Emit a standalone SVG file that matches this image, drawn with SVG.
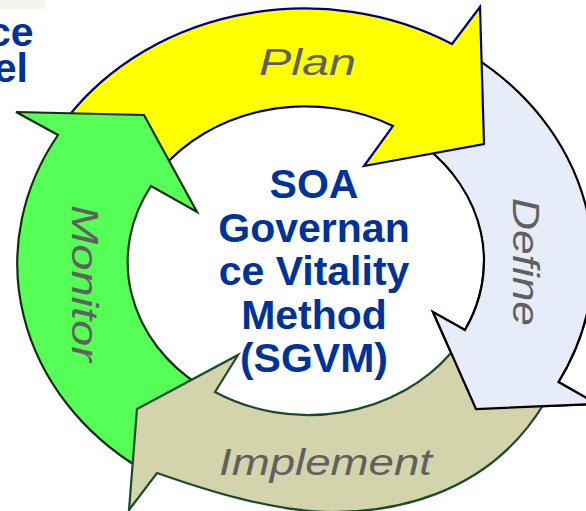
<svg xmlns="http://www.w3.org/2000/svg" width="586" height="511" viewBox="0 0 586 511">
<style>
.lbl{font-family:"Liberation Sans",Arial,sans-serif;font-style:italic;font-size:37px;fill:#606060}
.ctr{font-family:"Liberation Sans",Arial,sans-serif;font-weight:bold;font-size:41px;fill:#003399}
.yel{fill:#FFFF00;stroke:#000080;stroke-width:2.2}
.grn{fill:#55FF55;stroke:#0F300F;stroke-width:2.2}
.def{fill:#E6ECF8;stroke:#000000;stroke-width:2.2}
.deff{fill:#E6ECF8;stroke:none}
.defs{fill:none;stroke:#000000;stroke-width:2.2}
.imp{fill:#D3D3AC;stroke:#1B4A2A;stroke-width:2.2}
</style>
<rect x="0" y="0" width="45" height="9" fill="#F4F4EE"/>
<g id="title">
<text class="ctr" x="33.5" y="45.7" text-anchor="end">ce</text>
<text class="ctr" x="28" y="82.3" text-anchor="end">el</text>
</g>
<g id="cycle">
<g id="define">
<path class="def" d="M470,54.6 A291 254 0 0 1 558.5,382 L597,404 L476,409 L433,312 L465,330 A179 154 0 0 0 425,146.7 Z"/>
</g>
<g id="plan">
<path class="yel" d="M60,127.6 A287 250 0 0 1 452,44 L480,7 L484,144 L364,166 L393,126 A179 154 0 0 0 160,170.7 Z"/>
<text class="lbl" x="259" y="75" textLength="97" lengthAdjust="spacingAndGlyphs">Plan</text>
</g>
<g id="monitor">
<path class="grn" d="M16,112 L144,115 L197,212 L151,186 A179 154 0 0 0 200,385.7 L150,440 L140,468.4 A287 250 0 0 1 58,135 Z"/>
<text class="lbl" transform="translate(72,205) rotate(90)" textLength="157" lengthAdjust="spacingAndGlyphs">Monitor</text>
</g>
<g id="implement">
<path class="imp" d="M545,402 C486,501 383,512 333,512 C273,512 204,489.5 157,473 L129,510 L137,409 L238,355 L215,392 A179 157 0 0 0 451,353 L470,380 L545,398 Z"/>
<text class="lbl" x="219" y="475" textLength="213" lengthAdjust="spacingAndGlyphs">Implement</text>
</g>
<g id="define-head">
<path class="deff" d="M593,262 A291 254 0 0 1 558.5,382 L597,404 L476,409 L433,312 L465,330 A179 154 0 0 0 484,261 Z"/>
<path class="defs" d="M593,262 A291 254 0 0 1 558.5,382 L597,404 L476,409 L433,312 L465,330 A179 154 0 0 0 484,261"/>
<text class="lbl" transform="translate(513,198) rotate(90)" textLength="128" lengthAdjust="spacingAndGlyphs">Define</text>
</g>
</g>
<g id="center">
<text class="ctr" x="314" y="198" text-anchor="middle">SOA</text>
<text class="ctr" x="314" y="242" text-anchor="middle">Governan</text>
<text class="ctr" x="314" y="285" text-anchor="middle">ce Vitality</text>
<text class="ctr" x="314" y="329" text-anchor="middle">Method</text>
<text class="ctr" x="314" y="372" text-anchor="middle">(SGVM)</text>
</g>
</svg>
